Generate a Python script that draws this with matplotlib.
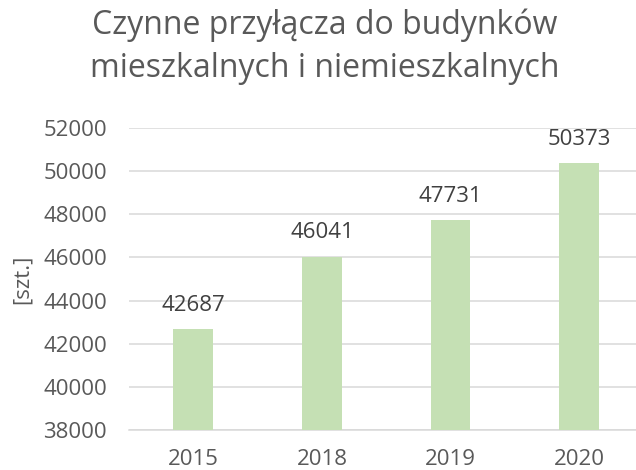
import matplotlib.pyplot as plt

plt.rcParams["font.family"] = ["Open Sans", "DejaVu Sans"]

# data
years = ["2015", "2018", "2019", "2020"]
values = [42687, 46041, 47731, 50373]
y_ticks = [38000, 40000, 42000, 44000, 46000, 48000, 50000, 52000]

text_gray = "#595959"
grid_gray = "#D9D9D9"
bar_green = "#C5E0B4"

fig = plt.figure(figsize=(6.36, 4.70), dpi=100)
# plot area runs a bit past the right edge (reference is cropped there)
ax = fig.add_axes([129 / 636, 40 / 470, 514.5 / 636, 302 / 470])

x = range(len(years))
bars = ax.bar(x, values, width=0.31, color=bar_green, zorder=3)

ax.set_xlim(-0.5, len(years) - 0.5)
ax.set_ylim(38000, 52000)
ax.set_yticks(y_ticks)
ax.set_yticklabels([str(t) for t in y_ticks])
ax.set_xticks(list(x))
ax.set_xticklabels(years)

ax.yaxis.grid(True, color=grid_gray, linewidth=1.1, zorder=0)
ax.xaxis.grid(False)
for s in ["left", "right", "top"]:
    ax.spines[s].set_visible(False)
ax.spines["bottom"].set_color(grid_gray)
ax.spines["bottom"].set_linewidth(1.1)
ax.tick_params(axis="both", length=0, labelsize=16, labelcolor=text_gray)
ax.tick_params(axis="y", pad=16)
ax.tick_params(axis="x", pad=14)

ax.set_ylabel("[szt.]", fontsize=16, color=text_gray)
ax.yaxis.set_label_coords((22 - 129) / 514.5, 0.5)
ax.yaxis.label.set_va("center")

for xi, v in zip(x, values):
    ax.annotate(str(v), (xi, v), xytext=(0, 13), textcoords="offset points",
                ha="center", va="baseline", fontsize=16, color="#404040",
                annotation_clip=False)

fig.text(325 / 636, 1 - 34 / 470, "Czynne przyłącza do budynków",
         ha="center", va="baseline", fontsize=23, color=text_gray)
fig.text(325 / 636, 1 - 77 / 470, "mieszkalnych i niemieszkalnych",
         ha="center", va="baseline", fontsize=23, color=text_gray)

fig.savefig("out.png", dpi=100)
